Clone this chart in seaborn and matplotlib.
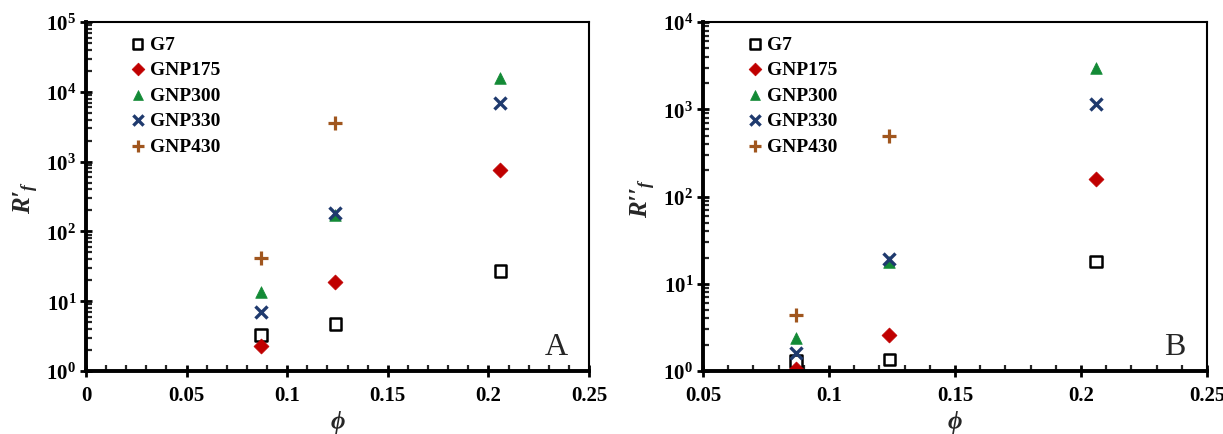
import numpy as np
import pandas as pd
import seaborn as sns
import matplotlib.pyplot as plt
from matplotlib.ticker import MultipleLocator, LogLocator, NullFormatter

# Data
series = ['G7', 'GNP175', 'GNP300', 'GNP330', 'GNP430']
phi = [0.087, 0.124, 0.206]

rf1_g7 = [3.3, 4.7, 27]
rf1_gnp175 = [2.3, 19, 750]
rf1_gnp300 = [13.5, 170, 16000]
rf1_gnp330 = [7.0, 185, 7000]
rf1_gnp430 = [41, 3600, np.nan]

rf2_g7 = [1.3, 1.35, 18]
rf2_gnp175 = [1.05, 2.6, 160]
rf2_gnp300 = [2.4, 18, 3000]
rf2_gnp330 = [1.6, 19, 1150]
rf2_gnp430 = [4.4, 500, np.nan]

colors = {'G7': 'black', 'GNP175': '#C00000', 'GNP300': '#138A36',
          'GNP330': '#1F3A6E', 'GNP430': '#A0561E'}
markers = {'G7': 's', 'GNP175': 'D', 'GNP300': '^', 'GNP330': 'x', 'GNP430': 'P'}


def long_frame(values):
    rows = []
    for name, vals in zip(series, values):
        for x, y in zip(phi, vals):
            if not np.isnan(y):
                rows.append({'phi': x, 'R': y, 'series': name})
    return pd.DataFrame(rows)


df_a = long_frame([rf1_g7, rf1_gnp175, rf1_gnp300, rf1_gnp330, rf1_gnp430])
df_b = long_frame([rf2_g7, rf2_gnp175, rf2_gnp300, rf2_gnp330, rf2_gnp430])

sns.set_style('ticks')
plt.rcParams['font.family'] = ['Liberation Serif', 'DejaVu Serif']
plt.rcParams['font.weight'] = 'bold'
plt.rcParams['mathtext.fontset'] = 'custom'
plt.rcParams['mathtext.rm'] = 'Liberation Serif:bold'
plt.rcParams['mathtext.bf'] = 'Liberation Serif:bold'
plt.rcParams['mathtext.it'] = 'Liberation Serif:italic:bold'

fig = plt.figure(figsize=(12.23, 4.35), dpi=100)
ax_a = fig.add_axes([0.0703, 0.1448, 0.4113, 0.8022])
ax_b = fig.add_axes([0.5748, 0.1448, 0.4121, 0.8022])


def draw(ax, df):
    for name in series:
        sub = df[df['series'] == name]
        if name == 'G7':
            sns.scatterplot(data=sub, x='phi', y='R', ax=ax, marker='s', s=70,
                            facecolor='none', edgecolor='black', linewidth=1.8, label=name)
        elif name == 'GNP330':
            sns.scatterplot(data=sub, x='phi', y='R', ax=ax, marker='x', s=75,
                            color=colors[name], linewidth=2.4, label=name)
        elif name == 'GNP430':
            sns.scatterplot(data=sub, x='phi', y='R', ax=ax, marker='+', s=95,
                            color=colors[name], linewidth=2.3, label=name)
        else:
            sns.scatterplot(data=sub, x='phi', y='R', ax=ax, marker=markers[name],
                            s=70 if name == 'GNP300' else 58,
                            color=colors[name], edgecolor=colors[name], linewidth=0.5, label=name)


def style(ax, xmin, ymax, letter, ylabel):
    ax.set_yscale('log')
    ax.set_xlim(xmin, 0.25)
    ax.set_ylim(1, ymax)
    ax.xaxis.set_major_locator(MultipleLocator(0.05))
    ax.xaxis.set_minor_locator(MultipleLocator(0.01))
    ax.yaxis.set_major_locator(LogLocator(base=10, numticks=10))
    ax.yaxis.set_minor_locator(LogLocator(base=10, subs=np.arange(2, 10), numticks=20))
    ax.yaxis.set_minor_formatter(NullFormatter())
    ax.xaxis.set_major_formatter(plt.FuncFormatter(lambda v, p: ('%g' % round(v, 3))))
    ax.yaxis.set_major_formatter(plt.FuncFormatter(lambda v, p: r'$\mathbf{10^{%d}}$' % round(np.log10(v))))
    ax.tick_params(which='major', direction='inout', length=8, width=2, labelsize=15, colors='black')
    ax.tick_params(which='minor', direction='in', length=4, width=1.6)
    ax.tick_params(axis='x', pad=6)
    ax.tick_params(axis='y', pad=3)
    for side in ['left', 'bottom']:
        ax.spines[side].set_linewidth(2.8)
    for side in ['top', 'right']:
        ax.spines[side].set_linewidth(1.5)
    for side in ax.spines:
        ax.spines[side].set_color('black')
    ax.set_xlabel(r'$\phi$', fontsize=18, labelpad=2)
    ax.set_ylabel(ylabel, fontsize=18, fontstyle='italic', fontweight='bold', labelpad=4)
    ax.text(0.936, 0.07, letter, transform=ax.transAxes, fontsize=23,
            fontweight='normal', ha='center', va='center')
    leg = ax.legend(loc='upper left', bbox_to_anchor=(0.06, 0.995), frameon=False,
                    handlelength=1.0, handletextpad=0.15, labelspacing=0.4, borderaxespad=0.2,
                    markerscale=0.85,
                    prop={'family': 'Liberation Serif', 'weight': 'bold', 'size': 14})
    for t in leg.get_texts():
        t.set_color('black')


draw(ax_a, df_a)
style(ax_a, 0, 1e5, 'A', "R\u2032$_f$")
draw(ax_b, df_b)
style(ax_b, 0.05, 1e4, 'B', "R\u2032\u2032$_f$")

fig.savefig('out.png', dpi=100)
